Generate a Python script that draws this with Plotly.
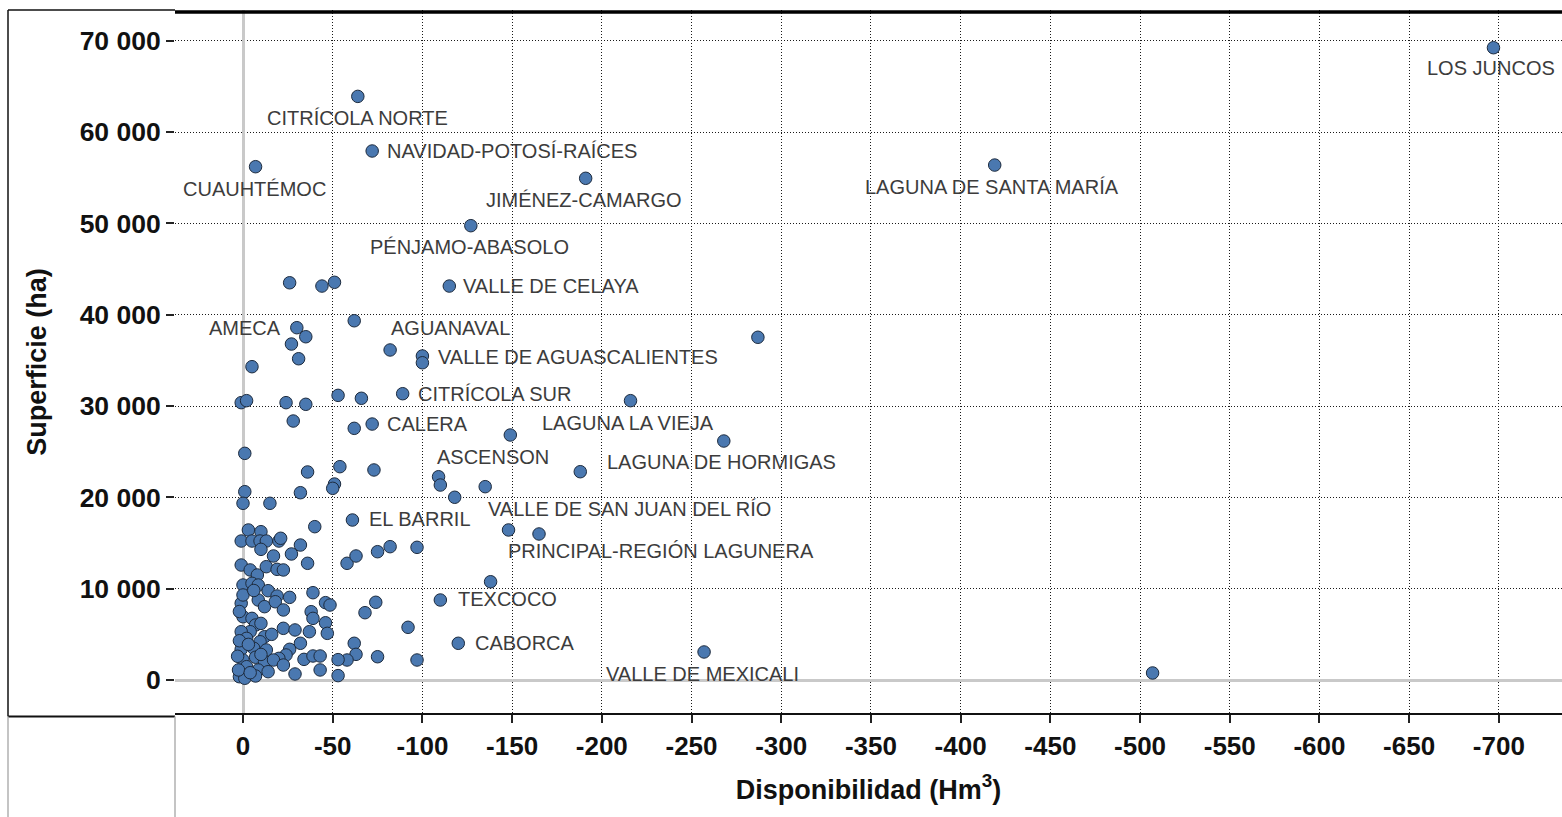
import plotly.graph_objects as go

# Points: Disponibilidad (Hm3, negative = deficit) vs Superficie (ha)
disponibilidad = [
    -697, -64, -72, -7, -191, -127, -419, -115, -287, -26, -44, -51, -62, -30, -35, -27, -31, -82, -5,
    -100, -100, 1, -2, -24, -35, -53, -66, -89, -28, -62, -72, -149, -216, -268, -1, -36, -54, -73,
    -109, -110, -118, -135, -188, -51, -50, -1, 0, -15, -32, -61, -148, -165, -40, -3, -10, 1, -5,
    -9.5, -13, -20, -21, -10, -32, -17, -27, -36, -58, -63, -75, -82, -97, 1, -4, -8, -13, -19, -22.5,
    -138, 0, -5, -8.5, -14, -19, -26, -39, -46, -48.5, 1, 0, -8.5, -12, -18, -22.5, -38, -39, -46, -47,
    -110, -74, -68, -92, -120, -62, -63, -58, -53, -75, -97, -53, -257, -507, 0, -5, -7, -4, 1, -10,
    -22.5, -29, -37, -2, -12, -9.5, -32, 1, -6, -13, -26, -24, -20, -34, -39, -43, 0, -7, -12, -17,
    -22.5, -2, -8.5, -14, -29, -43, 2, -1, -7, 2.5, 2, 2, -3, 3, -4, -10, -16, -6
]
superficie = [
    69240, 63910, 57930, 56210, 54940, 49750, 56390, 43140, 37530, 43500, 43140, 43550, 39340, 38580,
    37590, 36790, 35180, 36140, 34310, 35480, 34740, 30370, 30590, 30370, 30190, 31170, 30850, 31350,
    28360, 27560, 28030, 26830, 30590, 26170, 24820, 22780, 23360, 23000, 22260, 21350, 20010, 21170,
    22810, 21460, 20990, 20620, 19350, 19350, 20510, 17520, 16430, 15990, 16790, 16430, 16240, 15220,
    15220, 15220, 15220, 15220, 15520, 14310, 14780, 13580, 13800, 12780, 12780, 13580, 14050, 14600,
    14530, 12590, 12050, 11500, 12410, 12120, 12050, 10760, 10400, 10590, 10400, 9780, 9200, 9050,
    9560, 8470, 8210, 8400, 9310, 8760, 8030, 8570, 7670, 7480, 6750, 6270, 5110, 8760, 8510, 7370,
    5770, 4020, 4020, 2810, 2190, 2230, 2550, 2190, 480, 3070, 770, 6930, 6750, 6020, 5290, 5290, 6200,
    5660, 5480, 5290, 4560, 4740, 4190, 4020, 3360, 3470, 3290, 3360, 2740, 2370, 2260, 2630, 2630,
    2190, 2490, 2000, 2190, 1640, 1460, 1100, 910, 660, 1100, 360, 190, 440, 1100, 7500, 4300, 3900,
    2600, 800, 2800, 5000, 9800
]

# Aquifer labels (text, x, y, anchor)
label_text = ["LOS JUNCOS", "CITRÍCOLA NORTE", "NAVIDAD-POTOSÍ-RAÍCES", "CUAUHTÉMOC",
              "JIMÉNEZ-CAMARGO", "LAGUNA DE SANTA MARÍA", "PÉNJAMO-ABASOLO", "VALLE DE CELAYA",
              "AMECA", "AGUANAVAL", "VALLE DE AGUASCALIENTES", "CITRÍCOLA SUR", "CALERA",
              "LAGUNA LA VIEJA", "ASCENSON", "LAGUNA DE HORMIGAS", "VALLE DE SAN JUAN DEL RÍO",
              "EL BARRIL", "PRINCIPAL-REGIÓN LAGUNERA", "TEXCOCO", "CABORCA", "VALLE DE MEXICALI"]
label_x = [-695.9, -63.6, -79.2, -6.4, -190.2, -417.5, -126.3, -121.5, -1.1, -115.9, -107.6,
           -96.4, -79.2, -214.8, -139.5, -266.7, -215.4, -69.3, -233.2, -118.7, -128.0, -255.9]
label_y = [67010, 61590, 57960, 53760, 52560, 53980, 47380, 43140, 38510, 38510, 35400, 31280,
           28030, 28180, 24390, 23900, 18690, 17600, 14160, 8840, 4020, 660]
label_anchor = ["center", "center", "left", "center", "center", "center", "center", "left",
                "center", "center", "left", "left", "left", "center", "center", "center", "center",
                "left", "center", "left", "left", "center"]

x_ticks = list(range(0, -701, -50))
x_ticktext = [str(v) for v in x_ticks]
y_ticks = list(range(0, 70001, 10000))
y_ticktext = ["0" if v == 0 else f"{v // 1000} 000" for v in y_ticks]

FONT = "Liberation Sans, Arial, sans-serif"

fig = go.Figure()
fig.add_trace(go.Scatter(
    x=disponibilidad, y=superficie, mode="markers",
    marker=dict(size=12.5, color="#4a78b0", line=dict(color="#1d2b3e", width=1)),
    hoverinfo="x+y", showlegend=False,
))

for t, x, y, a in zip(label_text, label_x, label_y, label_anchor):
    fig.add_annotation(x=x, y=y, text=t, showarrow=False, xanchor=a, yanchor="middle",
                       font=dict(family=FONT, size=20, color="#3c3c3c"))

grid_dash = "1px,2px"
fig.update_xaxes(
    range=[37.9, -735.2], tickvals=x_ticks, ticktext=x_ticktext,
    showgrid=True, gridcolor="#1a1a1a", gridwidth=1, griddash=grid_dash,
    zeroline=True, zerolinecolor="#c9c9c9", zerolinewidth=3,
    showline=False, ticks="outside", ticklen=8, tickwidth=2, tickcolor="#222222",
    tickfont=dict(family=FONT, size=26, color="#111111", weight="bold"),
    ticklabelstandoff=1,
    title=dict(text="<b>Disponibilidad (Hm<sup>3</sup>)</b>", font=dict(family=FONT, size=27, color="#111111"),
               standoff=19),
)
fig.update_yaxes(
    range=[-3723, 73370], tickvals=y_ticks, ticktext=y_ticktext,
    showgrid=True, gridcolor="#1a1a1a", gridwidth=1, griddash=grid_dash,
    zeroline=True, zerolinecolor="#c9c9c9", zerolinewidth=3,
    showline=False, ticks="outside", ticklen=8, tickwidth=2, tickcolor="#222222",
    tickfont=dict(family=FONT, size=26.5, color="#111111", weight="bold"),
    title=dict(text="<b>Superficie (ha)</b>", font=dict(family=FONT, size=27, color="#111111"),
               standoff=25),
)

lx = -167 / 1387.0
yb = -2.5 / 704.0
ybot = -110 / 704.0
shapes = [
    dict(type="line", xref="paper", yref="paper", x0=0, x1=1, y0=0.997, y1=0.997,
         line=dict(color="black", width=3.5)),
    dict(type="line", xref="paper", yref="paper", x0=0, x1=1, y0=0, y1=0,
         line=dict(color="#111111", width=2)),
    dict(type="line", xref="paper", yref="paper", x0=lx, x1=0, y0=1, y1=1,
         line=dict(color="#111111", width=1.5)),
    dict(type="line", xref="paper", yref="paper", x0=lx, x1=lx, y0=1, y1=yb,
         line=dict(color="#111111", width=1.5)),
    dict(type="line", xref="paper", yref="paper", x0=lx, x1=0, y0=yb, y1=yb,
         line=dict(color="#111111", width=2)),
    dict(type="line", xref="paper", yref="paper", x0=lx, x1=lx, y0=yb, y1=ybot,
         line=dict(color="#b0b0b0", width=1.5)),
    dict(type="line", xref="paper", yref="paper", x0=0, x1=0, y0=yb, y1=ybot,
         line=dict(color="#b0b0b0", width=1.5)),
]

fig.update_layout(
    width=1562, height=817,
    margin=dict(l=175, r=0, t=10, b=103),
    paper_bgcolor="white", plot_bgcolor="white",
    shapes=shapes,
    font=dict(family=FONT),
)

fig.write_html("out.html", config={"displayModeBar": False},
               post_script="document.body.style.margin='0';document.body.style.overflow='hidden';")
